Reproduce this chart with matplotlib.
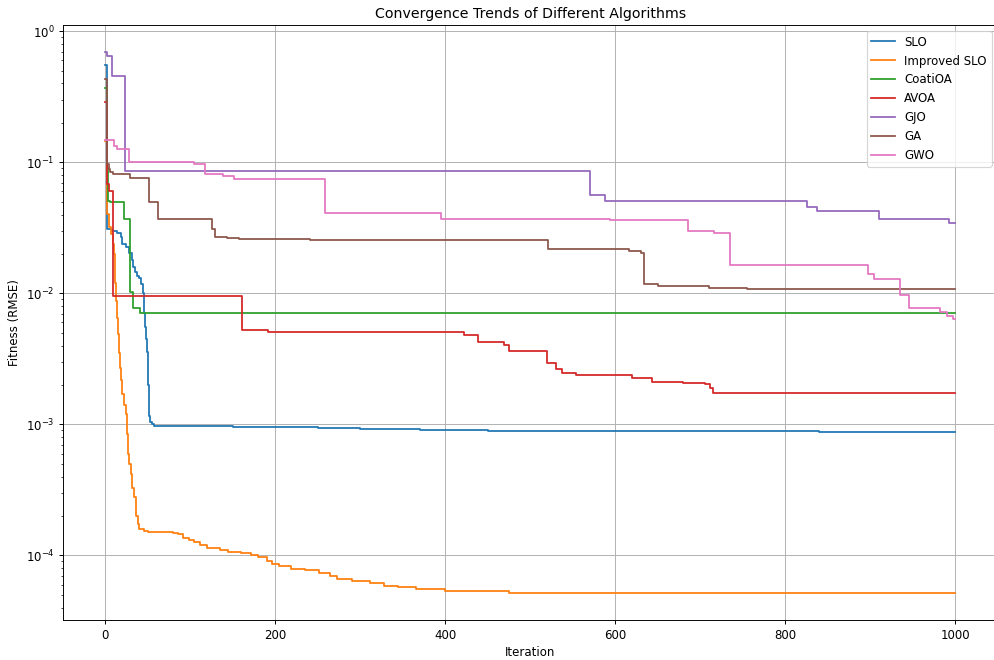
import matplotlib
matplotlib.use("Agg")
import matplotlib.pyplot as plt

# Convergence knots: iteration where a new best value starts, and that value
slo_iter = [0, 2, 8, 14, 18, 20, 24, 28, 31, 33, 35, 37, 40, 42, 44, 45, 46, 47, 48, 49, 50, 51,
            52, 53, 55, 57, 60, 100, 150, 200, 250, 300, 330, 370, 400, 450, 600, 840, 1000]
slo_val = [0.55, 0.031, 0.030, 0.029, 0.027, 0.024, 0.0226, 0.0202, 0.018, 0.0159, 0.0145, 0.0137,
           0.013, 0.0119, 0.010, 0.0084, 0.0071, 0.0055, 0.0045, 0.0036, 0.0020, 0.00136, 0.00115,
           0.00105, 0.001, 0.00098, 0.00097, 0.00097, 0.00096, 0.00095, 0.00094, 0.00093, 0.00092,
           0.00091, 0.0009, 0.00089, 0.00089, 0.00088, 0.00088]

islo_iter = [0, 2, 4, 7, 9, 10, 11, 12, 13, 14, 15, 16, 17, 18, 20, 22, 24, 25, 26, 27, 28, 30,
             32, 34, 36, 38, 40, 45, 50, 80, 85, 92, 98, 104, 112, 120, 135, 145, 160, 172, 180,
             190, 196, 205, 218, 235, 251, 265, 273, 290, 311, 328, 345, 366, 400, 475, 600, 800, 1000]
islo_val = [0.145, 0.0405, 0.032, 0.0286, 0.024, 0.02, 0.016, 0.012, 0.0088, 0.0065, 0.0049,
            0.0035, 0.0027, 0.0022, 0.0017, 0.0014, 0.0012, 0.00114, 0.00085, 0.0006, 0.0005,
            0.00042, 0.00033, 0.00028, 0.0002, 0.000175, 0.00016, 0.000155, 0.00015, 0.000149,
            0.000145, 0.000137, 0.000132, 0.000126, 0.00012, 0.000115, 0.000111, 0.000107,
            0.000104, 0.0001, 0.000097, 0.000091, 0.000086, 0.000083, 0.000079, 0.000077,
            0.000074, 0.00007, 0.000066, 0.000064, 0.000062, 0.000058, 0.000057, 0.000055,
            0.000054, 0.000052, 0.000052, 0.0000515, 0.0000515]

coati_iter = [0, 2, 3, 5, 22, 29, 33, 41, 1000]
coati_val = [0.37, 0.09, 0.051, 0.0497, 0.0372, 0.0102, 0.0077, 0.00707, 0.00707]

avoa_iter = [0, 2, 4, 9, 161, 192, 422, 439, 469, 475, 520, 530, 538, 554, 620, 643, 680,
             706, 712, 715, 1000]
avoa_val = [0.288, 0.069, 0.061, 0.0095, 0.0053, 0.0051, 0.00478, 0.00424, 0.00406, 0.00364,
            0.00297, 0.00264, 0.00249, 0.00239, 0.00228, 0.00211, 0.00206, 0.00202, 0.0019,
            0.00174, 0.00174]

gjo_iter = [0, 2, 8, 23, 571, 588, 826, 837, 910, 993, 1000]
gjo_val = [0.695, 0.644, 0.453, 0.0853, 0.0567, 0.0508, 0.0457, 0.0426, 0.0368, 0.0347, 0.0347]

ga_iter = [0, 2, 4, 6, 9, 29, 51, 62, 125, 129, 143, 157, 241, 521, 616, 631, 634, 651, 710,
           755, 1000]
ga_val = [0.436, 0.098, 0.089, 0.084, 0.081, 0.0765, 0.0497, 0.0368, 0.0312, 0.027, 0.0263,
          0.026, 0.0257, 0.0219, 0.021, 0.0202, 0.0117, 0.0113, 0.011, 0.0108, 0.0108]

gwo_iter = [0, 10, 14, 28, 104, 117, 139, 151, 258, 395, 594, 686, 716, 735, 898, 905, 935,
            946, 974, 982, 990, 998, 1000]
gwo_val = [0.147, 0.133, 0.127, 0.100, 0.098, 0.0818, 0.0786, 0.0742, 0.0412, 0.0372, 0.0366,
           0.0300, 0.0290, 0.0166, 0.0141, 0.0129, 0.0097, 0.0078, 0.0077, 0.0072, 0.0067,
           0.0064, 0.0064]

series = [
    ("SLO", slo_iter, slo_val),
    ("Improved SLO", islo_iter, islo_val),
    ("CoatiOA", coati_iter, coati_val),
    ("AVOA", avoa_iter, avoa_val),
    ("GJO", gjo_iter, gjo_val),
    ("GA", ga_iter, ga_val),
    ("GWO", gwo_iter, gwo_val),
]

DPI = 85
fig, ax = plt.subplots(figsize=(995 / DPI, 660 / DPI), dpi=DPI)
fig.subplots_adjust(left=62.8 / 995, right=997.5 / 995, top=1 - 25 / 660, bottom=1 - 620.3 / 660)

for name, xs, ys in series:
    ax.plot(xs, ys, drawstyle="steps-post", label=name, linewidth=1.5)

ax.set_yscale("log")
ax.set_title("Convergence Trends of Different Algorithms")
ax.set_xlabel("Iteration")
ax.set_ylabel("Fitness (RMSE)")
ax.grid(True)
ax.legend(loc="upper right")

fig.savefig("out.png", dpi=DPI)
